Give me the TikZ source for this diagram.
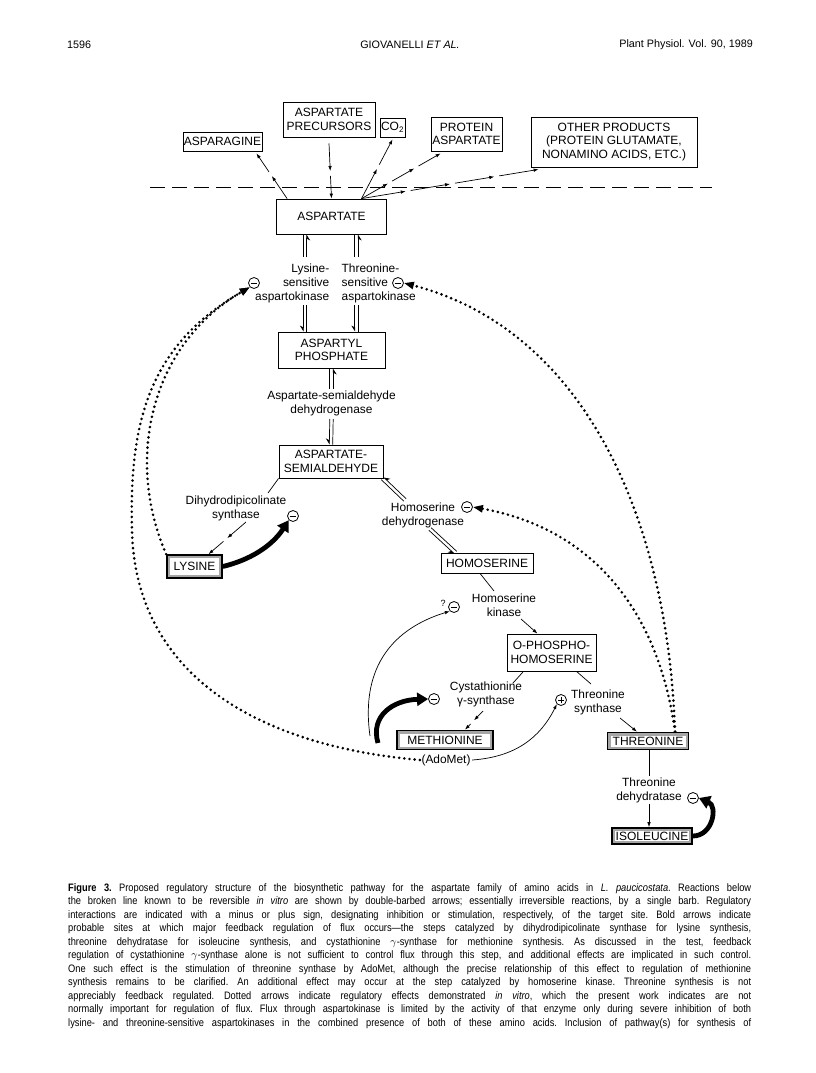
\documentclass[tikz,border=0pt]{standalone}
\usepackage{fontspec}
\setmainfont{Liberation Sans}
\newfontfamily\capfont[FakeStretch=0.86,Ligatures=TeX]{Liberation Sans}
\usetikzlibrary{arrows.meta,calc}
\newcommand{\bxf}{\fontsize{12}{13.5}\selectfont}
\newcommand{\lbf}{\fontsize{11.9}{14}\selectfont}
\newcommand{\capline}[1]{\makebox[683pt][s]{#1}}
\newcommand{\brokenarr}[3]{\foreach \ii in {1,...,#3}{\pgfmathsetmacro{\gp}{(\ii>1)*5}\draw[tarr,shorten <=\gp pt] ($(#1)!{(\ii-1)/#3}!(#2)$) -- ($(#1)!{\ii/#3}!(#2)$);}}
\newcommand{\revtop}[2]{%
  \draw[tline] ($(#1)!1.7pt!-90:(#2)$) -- ($(#2)!1.7pt!90:(#1)$);
  \draw[tline,-{Stealth[right,length=5.5pt,width=7pt]}] ($(#2)!1.7pt!-90:(#1)$) -- ($(#1)!1.7pt!90:(#2)$);}
\newcommand{\revbot}[2]{%
  \draw[tline,-{Stealth[right,length=5.5pt,width=7pt]}] ($(#1)!1.7pt!-90:(#2)$) -- ($(#2)!1.7pt!90:(#1)$);
  \draw[tline] ($(#2)!1.7pt!-90:(#1)$) -- ($(#1)!1.7pt!90:(#2)$);}
\begin{document}
\begin{tikzpicture}[x=1pt,y=-1pt,
  box/.style={draw,line width=0.8pt,fill=white,align=center,inner sep=1pt,font=\bxf},
  shbox/.style={draw,line width=1.6pt,fill=gray!70,inner sep=1pt,font=\bxf,
    path picture={\fill[white] ([shift={(3pt,3pt)}]path picture bounding box.south west) rectangle ([shift={(-3pt,-3pt)}]path picture bounding box.north east);}},
  lab/.style={align=center,inner sep=1.5pt,font=\lbf},
  sgn/.style={circle,draw,line width=0.8pt,minimum size=11pt,inner sep=0pt},
  minus/.style={sgn,path picture={\draw[line width=0.8pt] ([xshift=-3.3pt]path picture bounding box.center)--([xshift=3.3pt]path picture bounding box.center);}},
  plus/.style={sgn,path picture={\draw[line width=0.8pt] ([xshift=-3.3pt]path picture bounding box.center)--([xshift=3.3pt]path picture bounding box.center) ([yshift=-3.3pt]path picture bounding box.center)--([yshift=3.3pt]path picture bounding box.center);}},
  tline/.style={line width=0.7pt},
  tarr/.style={line width=0.7pt,-{Latex[length=5pt,width=3.5pt]}},
  dotarr/.style={line width=2.9pt,line cap=round,dash pattern=on 0pt off 5.2pt,-{Triangle[length=10pt,width=7pt]}},
  boldarr/.style={line width=4.8pt,-{Triangle[length=11pt,width=13pt]}},
  hdr/.style={font=\fontsize{10.8}{12}\selectfont,inner sep=0pt}
]
\useasboundingbox[fill=white] (0,0) rectangle (816,1073);
% header
\node[hdr,anchor=west] (pg) at (67,45) {1596};
\node[hdr] (au) at (410,45) {GIOVANELLI \textit{ET AL.}};
\node[hdr,anchor=east] (jr) at (753,45) {Plant Physiol. Vol. 90, 1989};
% dashed line
\coordinate (dl) at (150,187); \coordinate (dr) at (712,187);
\draw[line width=0.8pt,dash pattern=on 15pt off 7pt] (dl) -- (dr);
% top boxes
\node[box,minimum width=79pt,minimum height=19pt] (asparagine) at (222.5,141.5) {ASPARAGINE};
\node[box,minimum width=92pt,minimum height=35pt] (precursors) at (329,119.5) {ASPARTATE\\PRECURSORS};
\node[box,minimum width=21pt,minimum height=19pt] (co2) at (392.5,127.5) {CO\textsubscript{2}};
\node[box,minimum width=71pt,minimum height=34pt] (protein) at (466.5,134) {PROTEIN\\ASPARTATE};
\node[box,minimum width=166pt,minimum height=50pt] (other) at (614,142) {OTHER PRODUCTS\\(PROTEIN GLUTAMATE,\\NONAMINO ACIDS, ETC.)};
% main boxes
\node[box,minimum width=110pt,minimum height=35pt] (aspartate) at (331.5,216.5) {ASPARTATE};
\node[box,minimum width=107pt,minimum height=36pt] (aspartyl) at (331.5,350) {ASPARTYL\\PHOSPHATE};
\node[box,minimum width=104pt,minimum height=33pt] (asa) at (331,461.5) {ASPARTATE-\\SEMIALDEHYDE};
\node[box,minimum width=92pt,minimum height=20pt] (homoserine) at (487,563) {HOMOSERINE};
\node[box,minimum width=89pt,minimum height=37pt] (oph) at (551.5,652.5) {O-PHOSPHO-\\HOMOSERINE};
\node[shbox,minimum width=55pt,minimum height=23pt] (lysine) at (194.5,566.5) {LYSINE};
\node[shbox,minimum width=96pt,minimum height=19pt] (methionine) at (445,740) {METHIONINE};
\node[shbox,minimum width=81pt,minimum height=17pt] (threonine) at (648,741) {THREONINE};
\node[shbox,minimum width=80pt,minimum height=16pt] (isoleucine) at (652,836) {ISOLEUCINE};
% labels and signs
\node[lab,align=right,anchor=east] (lysak) at (331,283) {Lysine-\\sensitive\\aspartokinase};
\node[lab,align=left,anchor=west] (thrak) at (340,283) {Threonine-\\sensitive\\aspartokinase};
\node[minus] (mLys) at (254,283) {};
\node[minus] (mThr) at (398,283) {};
\node[lab] (asadh) at (331.5,403) {Aspartate-semialdehyde\\dehydrogenase};
\node[lab] (dhdps) at (236,508.5) {Dihydrodipicolinate\\synthase};
\node[minus] (mDap) at (293,516) {};
\node[lab] (hsdh) at (423,515) {Homoserine\\dehydrogenase};
\node[minus] (mHsd) at (467,507) {};
\node[lab] (hk) at (504,605.5) {Homoserine\\kinase};
\node[minus] (mHk) at (454,607) {};
\node[font=\fontsize{9}{10}\selectfont,inner sep=0pt] (qm) at (443,603) {?};
\node[lab] (cgs) at (486,694.5) {Cystathionine\\γ-synthase};
\node[minus] (mCgs) at (434,699) {};
\node[lab] (ts) at (598,702.5) {Threonine\\synthase};
\node[plus] (pTs) at (561,700) {};
\node[lab] (adomet) at (446,760) {(AdoMet)};
\node[lab] (td) at (649,790) {Threonine\\dehydratase};
\node[minus] (mTd) at (693,798) {};
% top arrows
\coordinate (asnS) at ([xshift=11pt]aspartate.north west);
\coordinate (asnE) at ([xshift=-6pt,yshift=-2pt]asparagine.south east);
\brokenarr{asnS}{asnE}{2}
\coordinate (preS) at ([yshift=-6pt]precursors.south);
\brokenarr{preS}{aspartate.north}{2}
\coordinate (fan) at ([xshift=30pt]aspartate.north);
\coordinate (co2E) at ([yshift=-2pt]co2.south);
\brokenarr{fan}{co2E}{2}
\coordinate (proE) at ([xshift=10pt,yshift=-2pt]protein.south west);
\brokenarr{fan}{proE}{3}
\coordinate (othE) at ([xshift=8pt,yshift=-2pt]other.south west);
\brokenarr{fan}{othE}{4}
% reversible steps
\coordinate (k1a) at ([xshift=-26.5pt]aspartate.south);
\coordinate (k1b) at (305,257);
\coordinate (k1c) at (305,305);
\coordinate (k1d) at ([xshift=-26.5pt]aspartyl.north);
\revtop{k1a}{k1b}
\revbot{k1c}{k1d}
\coordinate (k2a) at ([xshift=25pt]aspartate.south);
\coordinate (k2b) at (356.5,257);
\coordinate (k2c) at (356.5,305);
\coordinate (k2d) at ([xshift=25pt]aspartyl.north);
\revtop{k2a}{k2b}
\revbot{k2c}{k2d}
\coordinate (d2) at (331.5,389);
\coordinate (d3) at (331.5,419);
\revtop{aspartyl.south}{d2}
\revbot{d3}{asa.north}
\coordinate (h1) at ([xshift=-1pt]asa.south east);
\coordinate (h2) at (405,500);
\coordinate (h3) at (430,529);
\coordinate (h4) at ([xshift=15pt]homoserine.north west);
\revtop{h1}{h2}
\revbot{h3}{h4}
% irreversible steps
\coordinate (dd1) at (268,493);
\draw[tline] (asa.south west) -- (dd1);
\coordinate (dd2) at (246,522);
\coordinate (lysN) at ([xshift=14pt]lysine.north);
\brokenarr{dd2}{lysN}{2}
\coordinate (hs1) at ([xshift=-7pt]homoserine.south);
\coordinate (hs2) at (494,591);
\draw[tline] (hs1) -- (hs2);
\coordinate (hk1) at (521,619);
\coordinate (ophN) at ([xshift=-14pt]oph.north);
\draw[tarr] (hk1) -- (ophN);
\coordinate (op1) at ([xshift=-28pt]oph.south);
\coordinate (op2) at (513,683);
\draw[tline] (op1) -- (op2);
\coordinate (cg1) at (483,711);
\coordinate (metN) at ([xshift=20pt]methionine.north);
\brokenarr{cg1}{metN}{2}
\coordinate (op3) at ([xshift=25pt]oph.south);
\coordinate (op4) at (591,684);
\draw[tline] (op3) -- (op4);
\coordinate (ts1) at (620,718);
\coordinate (thrN) at ([xshift=-11pt]threonine.north);
\draw[tarr] (ts1) -- (thrN);
\draw[tline] (threonine.south -| td.north) -- (td.north);
\draw[tarr] (td.south) -- (isoleucine.north -| td.south);
% regulation: bold
\draw[boldarr] (lysine.east) .. controls (250,560) and (272,546) .. (mDap.south west);
\coordinate (mb) at (378,743);
\draw[boldarr] (mb) .. controls (370,716) and (393,700) .. (mCgs.west);
\draw[boldarr] (isoleucine.east) .. controls (713,836) and (718,806) .. (mTd.east);
% regulation: thin
\coordinate (mt) at (370,736);
\draw[tarr] (mt) .. controls (360,665) and (395,628) .. (mHk.south west);
\draw[tarr] (adomet.east) .. controls (515,757) and (540,738) .. (pTs.south west);
% regulation: dotted
\draw[dotarr] (lysine.north west) .. controls (125,460) and (150,345) .. (mLys.south west);
\draw[dotarr] (adomet.west) .. controls (250,745) and (135,670) .. (132,530) .. controls (129,420) and (150,345) .. (mLys.south west);
\coordinate (thrT) at ([xshift=27pt]threonine.north);
\draw[dotarr] (thrT) .. controls (668,520) and (585,330) .. (mThr.east);
\draw[dotarr] (thrT) .. controls (660,620) and (600,530) .. (mHsd.east);
% caption
\node[anchor=north west,inner sep=0pt,align=left,font=\capfont\fontsize{10.8}{13.5}\selectfont\frenchspacing] (cap) at (68,883) {%
\capline{\textbf{Figure 3.} Proposed regulatory structure of the biosynthetic pathway for the aspartate family of amino acids in \textit{L. paucicostata}. Reactions below}\\
\capline{the broken line known to be reversible \textit{in vitro} are shown by double-barbed arrows; essentially irreversible reactions, by a single barb. Regulatory}\\
\capline{interactions are indicated with a minus or plus sign, designating inhibition or stimulation, respectively, of the target site. Bold arrows indicate}\\
\capline{probable sites at which major feedback regulation of flux occurs---the steps catalyzed by dihydrodipicolinate synthase for lysine synthesis,}\\
\capline{threonine dehydratase for isoleucine synthesis, and cystathionine $\gamma$-synthase for methionine synthesis. As discussed in the test, feedback}\\
\capline{regulation of cystathionine $\gamma$-synthase alone is not sufficient to control flux through this step, and additional effects are implicated in such control.}\\
\capline{One such effect is the stimulation of threonine synthase by AdoMet, although the precise relationship of this effect to regulation of methionine}\\
\capline{synthesis remains to be clarified. An additional effect may occur at the step catalyzed by homoserine kinase. Threonine synthesis is not}\\
\capline{appreciably feedback regulated. Dotted arrows indicate regulatory effects demonstrated \textit{in vitro}, which the present work indicates are not}\\
\capline{normally important for regulation of flux. Flux through aspartokinase is limited by the activity of that enzyme only during severe inhibition of both}\\
\capline{lysine- and threonine-sensitive aspartokinases in the combined presence of both of these amino acids. Inclusion of pathway(s) for synthesis of}};
\end{tikzpicture}
\end{document}
